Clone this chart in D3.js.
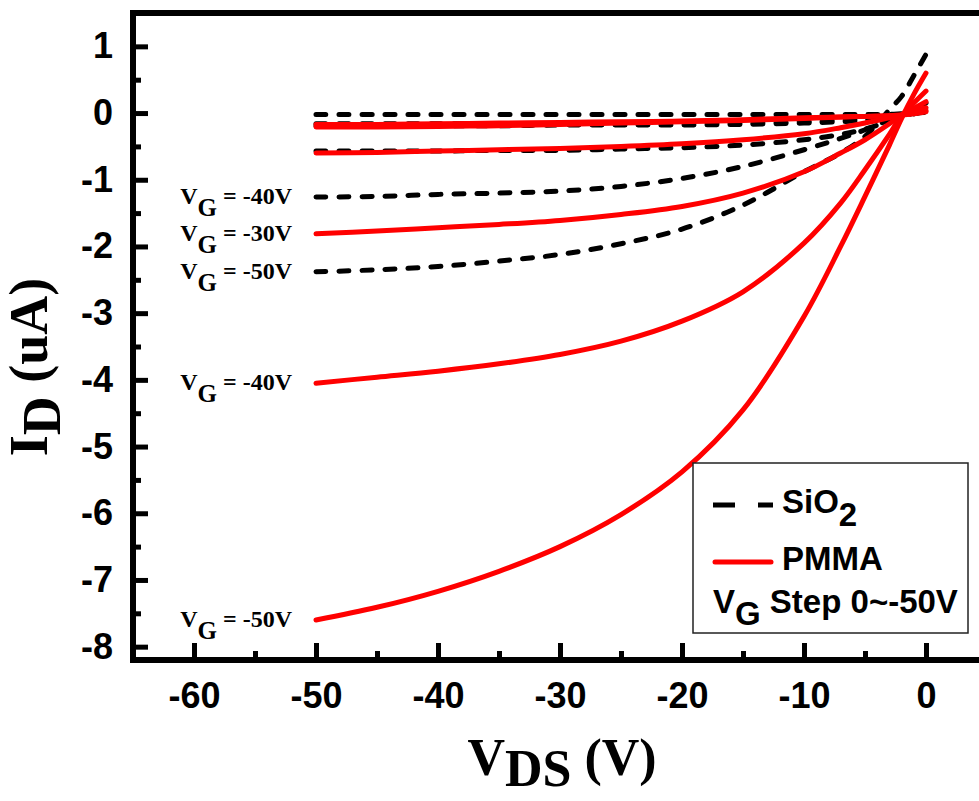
<!DOCTYPE html>
<html>
<head>
<meta charset="utf-8">
<script src="https://cdn.jsdelivr.net/npm/d3@7"></script>
<style>
body { margin: 0; background: #fff; }
</style>
</head>
<body>
<script>
// drain voltage points (V)
const vds = [-50, -45, -40, -35, -30, -25, -20, -15, -10, -7, -5, -3, -2, -1, 0];
const vgSteps = [0, -10, -20, -30, -40, -50];

// I_D (uA), one row per gate step
const sio2 = [
    [-0.02, -0.02, -0.02, -0.02, -0.02, -0.02, -0.02, -0.02, -0.02, -0.02, -0.02, -0.02, -0.01, 0.0, 0.01],
    [-0.16, -0.16, -0.16, -0.16, -0.16, -0.16, -0.15, -0.15, -0.13, -0.11, -0.09, -0.06, -0.04, -0.01, 0.02],
    [-0.19, -0.19, -0.19, -0.19, -0.18, -0.18, -0.18, -0.17, -0.15, -0.13, -0.11, -0.07, -0.04, -0.01, 0.03],
    [-0.57, -0.57, -0.57, -0.56, -0.56, -0.54, -0.52, -0.48, -0.40, -0.32, -0.24, -0.12, -0.06, 0.0, 0.05],
    [-1.26, -1.25, -1.22, -1.20, -1.17, -1.10, -0.98, -0.80, -0.55, -0.38, -0.25, -0.10, -0.02, 0.06, 0.15],
    [-2.38, -2.35, -2.30, -2.22, -2.12, -1.96, -1.74, -1.38, -0.88, -0.60, -0.35, 0.05, 0.25, 0.56, 0.88]
];
const pmma = [
    [-0.17, -0.17, -0.16, -0.15, -0.14, -0.13, -0.12, -0.10, -0.07, -0.06, -0.05, -0.04, -0.03, -0.01, 0.02],
    [-0.21, -0.21, -0.20, -0.19, -0.17, -0.15, -0.13, -0.11, -0.08, -0.06, -0.05, -0.04, -0.03, 0.0, 0.04],
    [-0.60, -0.59, -0.57, -0.55, -0.53, -0.50, -0.46, -0.40, -0.31, -0.22, -0.15, -0.07, -0.03, 0.03, 0.08],
    [-1.81, -1.77, -1.72, -1.67, -1.61, -1.52, -1.40, -1.20, -0.88, -0.60, -0.40, -0.16, -0.03, 0.07, 0.17],
    [-4.05, -3.96, -3.87, -3.76, -3.62, -3.42, -3.12, -2.68, -1.95, -1.35, -0.85, -0.32, -0.04, 0.15, 0.33],
    [-7.60, -7.41, -7.17, -6.87, -6.50, -6.02, -5.38, -4.45, -3.05, -2.00, -1.25, -0.48, -0.08, 0.28, 0.60]
];

const xTicks = [-60, -50, -40, -30, -20, -10, 0];
const xMinor = [-65, -55, -45, -35, -25, -15, -5, 5];
const yTicks = [-8, -7, -6, -5, -4, -3, -2, -1, 0, 1];
const yMinor = [-7.5, -6.5, -5.5, -4.5, -3.5, -2.5, -1.5, -0.5, 0.5, 1.5];

// curve labels on the left: [material, gate step]
const curveLabels = [["SiO2", -40], ["PMMA", -30], ["SiO2", -50], ["PMMA", -40], ["PMMA", -50]];

const width = 979;
const height = 801;
const sans = "'Liberation Sans', Arial, sans-serif";
const serif = "'Liberation Serif', 'Times New Roman', serif";

const svg = d3.select('body')
    .append('svg')
    .attr('width', width)
    .attr('height', height);

const x = d3.scaleLinear().domain([-65, 5]).range([133, 987]);
const y = d3.scaleLinear().domain([-8.2, 1.5]).range([660, 13]);

// axes, ticks pointing inward
const styleAxis = function (g) {
    g.select('.domain').remove();
    g.selectAll('line').attr('stroke', '#000').attr('stroke-width', 5);
    g.selectAll('text')
        .attr('fill', '#000')
        .style('font-family', sans)
        .style('font-weight', 'bold')
        .style('font-size', '36px');
};

svg.append('g')
    .attr('transform', `translate(0,${y.range()[0]})`)
    .call(d3.axisBottom(x).tickValues(xTicks).tickSize(-17).tickPadding(22).tickFormat(d => String(d)))
    .call(styleAxis);
svg.append('g')
    .attr('transform', `translate(0,${y.range()[0]})`)
    .call(d3.axisBottom(x).tickValues(xMinor).tickSize(-9).tickFormat(''))
    .call(styleAxis);
svg.append('g')
    .attr('transform', `translate(${x.range()[0]},0)`)
    .call(d3.axisLeft(y).tickValues(yTicks).tickSize(-15).tickPadding(20).tickFormat(d => String(d)))
    .call(styleAxis);
svg.append('g')
    .attr('transform', `translate(${x.range()[0]},0)`)
    .call(d3.axisLeft(y).tickValues(yMinor).tickSize(-8).tickFormat(''))
    .call(styleAxis);

// frame
svg.append('rect')
    .attr('x', x.range()[0])
    .attr('y', y.range()[1])
    .attr('width', x.range()[1] - x.range()[0])
    .attr('height', y.range()[0] - y.range()[1])
    .attr('fill', 'none')
    .attr('stroke', '#000')
    .attr('stroke-width', 6);

const line = d3.line()
    .x((d, i) => x(vds[i]))
    .y(d => y(d))
    .curve(d3.curveCatmullRom.alpha(0.5));

svg.append('g')
    .selectAll('path')
    .data(sio2)
    .join('path')
    .attr('d', line)
    .attr('fill', 'none')
    .attr('stroke', '#000')
    .attr('stroke-width', 5)
    .attr('stroke-linecap', 'round')
    .attr('stroke-dasharray', '10,13');

svg.append('g')
    .selectAll('path')
    .data(pmma)
    .join('path')
    .attr('d', line)
    .attr('fill', 'none')
    .attr('stroke', '#ff0000')
    .attr('stroke-width', 5)
    .attr('stroke-linecap', 'round');

// V_G labels next to the curve starts
const labels = svg.append('g')
    .selectAll('text')
    .data(curveLabels)
    .join('text')
    .attr('x', x(vds[0]) - 24)
    .attr('y', d => {
        const rows = d[0] === 'SiO2' ? sio2 : pmma;
        return y(rows[vgSteps.indexOf(d[1])][0]) + 7;
    })
    .attr('text-anchor', 'end')
    .style('font-family', serif)
    .style('font-weight', 'bold')
    .style('font-size', '24px');
labels.append('tspan').text('V');
labels.append('tspan').attr('dy', 12).style('font-size', '25px').text('G');
labels.append('tspan').attr('dy', -12).text(d => ` = ${d[1]}V`);

// axis titles
const xTitle = svg.append('text')
    .attr('x', 562)
    .attr('y', 775)
    .attr('text-anchor', 'middle')
    .style('font-family', serif)
    .style('font-weight', 'bold')
    .style('font-size', '52px');
xTitle.append('tspan').text('V');
xTitle.append('tspan').attr('dy', 11).text('DS');
xTitle.append('tspan').attr('dy', -11).text(' (V)');

const yTitle = svg.append('text')
    .attr('transform', 'translate(47,367) rotate(-90)')
    .attr('text-anchor', 'middle')
    .style('font-family', serif)
    .style('font-weight', 'bold')
    .style('font-size', '54px');
yTitle.append('tspan').text('I');
yTitle.append('tspan').attr('dy', 13).text('D');
yTitle.append('tspan').attr('dy', -13).text(' (uA)');

// legend
const legend = svg.append('g').attr('transform', 'translate(693,463)');
legend.append('rect')
    .attr('width', 275)
    .attr('height', 170)
    .attr('fill', '#fff')
    .attr('stroke', '#222')
    .attr('stroke-width', 1.5);
legend.append('line')
    .attr('x1', 20).attr('x2', 80)
    .attr('y1', 42).attr('y2', 42)
    .attr('stroke', '#000')
    .attr('stroke-width', 5)
    .attr('stroke-dasharray', '22,23');
legend.append('line')
    .attr('x1', 22).attr('x2', 78)
    .attr('y1', 99).attr('y2', 99)
    .attr('stroke', '#ff0000')
    .attr('stroke-width', 5)
    .attr('stroke-linecap', 'round');

const legendText = function (ty) {
    return legend.append('text')
        .attr('x', 89)
        .attr('y', ty)
        .style('font-family', sans)
        .style('font-weight', 'bold')
        .style('font-size', '33px');
};
const t1 = legendText(50);
t1.append('tspan').text('SiO');
t1.append('tspan').attr('dy', 13).text('2');
legendText(107).text('PMMA');
const t3 = legendText(150).attr('x', 20);
t3.append('tspan').text('V');
t3.append('tspan').attr('dy', 12).text('G');
t3.append('tspan').attr('dy', -12).text(' Step 0~-50V');
</script>
</body>
</html>
